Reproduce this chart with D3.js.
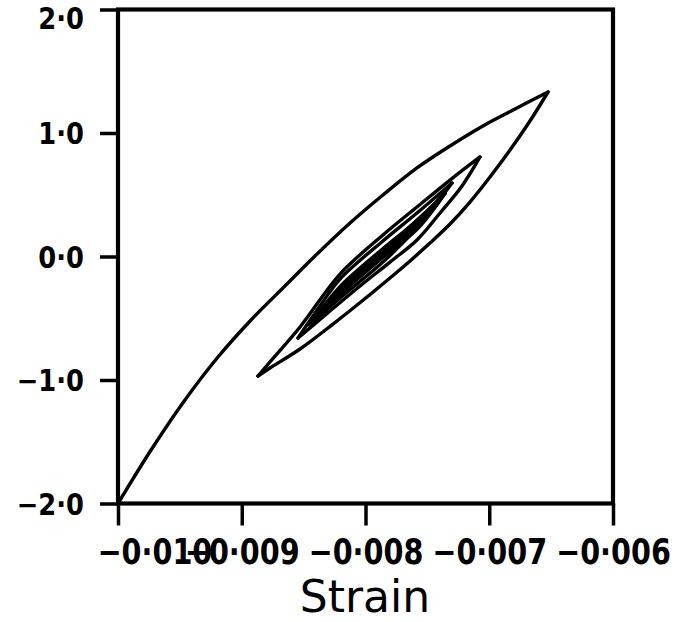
<!DOCTYPE html>
<html>
<head>
<meta charset="utf-8">
<script src="https://cdn.jsdelivr.net/npm/d3@7"></script>
<style>
  html, body { margin: 0; padding: 0; background: #ffffff; }
  svg { display: block; }
</style>
</head>
<body>
<svg id="chart" width="681" height="622"></svg>
<script>
// ---- data (strain, stress) ----
const xTicks = [-0.010, -0.009, -0.008, -0.007, -0.006];
const xTickLabels = ["\u22120\u00b7010", "\u22120\u00b7009", "\u22120\u00b7008", "\u22120\u00b7007", "\u22120\u00b7006"];
const yTicks = [2, 1, 0, -1, -2];
const yTickLabels = ["2\u00b70", "1\u00b70", "0\u00b70", "\u22121\u00b70", "\u22122\u00b70"];
const xTitle = "Strain";

const outerUp = [
  [-0.010000, -2.000], [-0.009733, -1.567], [-0.009459, -1.162], [-0.009192, -0.814],
  [-0.008925, -0.514], [-0.008651, -0.239], [-0.008408, 0.004], [-0.008125, 0.271],
  [-0.007859, 0.498], [-0.007584, 0.717], [-0.007317, 0.895], [-0.007051, 1.057],
  [-0.006776, 1.202], [-0.006525, 1.332]
];
const outerDown = [
  [-0.006525, 1.332], [-0.006671, 1.097], [-0.006832, 0.862], [-0.006994, 0.644],
  [-0.007156, 0.441], [-0.007317, 0.263], [-0.007479, 0.109], [-0.007640, -0.036],
  [-0.007802, -0.174], [-0.007988, -0.328], [-0.008263, -0.547], [-0.008529, -0.749],
  [-0.008772, -0.903], [-0.008869, -0.968]
];
const loop2Up = [
  [-0.008869, -0.968], [-0.008772, -0.854], [-0.008529, -0.571], [-0.008206, -0.142],
  [-0.007859, 0.174], [-0.007584, 0.401], [-0.007317, 0.619], [-0.007075, 0.806]
];
const loop2Down = [
  [-0.007075, 0.806], [-0.007220, 0.571], [-0.007398, 0.352], [-0.007584, 0.134],
  [-0.007802, -0.045], [-0.008044, -0.239], [-0.008287, -0.441], [-0.008545, -0.660]
];
const loop3Up = [
  [-0.008545, -0.660], [-0.008368, -0.401], [-0.008206, -0.182], [-0.007859, 0.126],
  [-0.007584, 0.352], [-0.007301, 0.595]
];
const loop3Down = [
  [-0.007301, 0.595], [-0.007479, 0.360], [-0.007584, 0.231], [-0.007859, -0.045],
  [-0.008206, -0.336], [-0.008448, -0.555]
];
const loop4Up = [
  [-0.008448, -0.555], [-0.008206, -0.247], [-0.007859, 0.061], [-0.007584, 0.287],
  [-0.007358, 0.514]
];
const loop4Down = [
  [-0.007358, 0.514], [-0.007584, 0.223], [-0.007859, -0.004], [-0.008206, -0.304],
  [-0.008400, -0.498]
];
const loop5Up = [
  [-0.008400, -0.498], [-0.008206, -0.263], [-0.007859, 0.045], [-0.007584, 0.271],
  [-0.007398, 0.466]
];
const loop5Down = [
  [-0.007398, 0.466], [-0.007584, 0.239], [-0.007859, 0.012], [-0.008206, -0.287],
  [-0.008352, -0.449]
];
const loop6Up = [
  [-0.008352, -0.449], [-0.007859, 0.036], [-0.007463, 0.401]
];
const loop6Down = [
  [-0.007463, 0.401], [-0.007859, 0.020], [-0.008287, -0.368]
];
const loop7Up = [
  [-0.008287, -0.368], [-0.007859, 0.028], [-0.007519, 0.336]
];

const outerBranches = [outerUp, outerDown, loop2Up, loop2Down, loop3Up, loop3Down];
const coreBranches = [loop4Up, loop4Down, loop5Up, loop5Down, loop6Up, loop6Down, loop7Up];

// ---- layout ----
const svg = d3.select("#chart");
const mLeft = 118, mRight = 613, mTop = 9.5, mBottom = 503.5;
const yCond = 0.86, xCond = 0.82;

const x = d3.scaleLinear().domain([-0.010, -0.006]).range([mLeft, mRight]);
const y = d3.scaleLinear().domain([-2, 2]).range([mBottom, mTop]);

const line = d3.line()
  .x(d => x(d[0]))
  .y(d => y(d[1]))
  .curve(d3.curveCatmullRom.alpha(0.5));

const g = svg.append("g");

// dense core of the tightest loops (loop 4 enclosed area)
g.append("path")
  .attr("d", line(loop4Up) + line(loop4Down).replace(/^M/, "L") + "Z")
  .attr("fill", "#000")
  .attr("stroke", "none");

g.selectAll("path.outer")
  .data(outerBranches)
  .join("path")
  .attr("class", "outer")
  .attr("d", line)
  .attr("fill", "none")
  .attr("stroke", "#000")
  .attr("stroke-width", 3.4)
  .attr("stroke-linecap", "round")
  .attr("stroke-linejoin", "round");

g.selectAll("path.core")
  .data(coreBranches)
  .join("path")
  .attr("class", "core")
  .attr("d", line)
  .attr("fill", "none")
  .attr("stroke", "#000")
  .attr("stroke-width", 4)
  .attr("stroke-linecap", "round")
  .attr("stroke-linejoin", "round");

// frame
svg.append("rect")
  .attr("x", mLeft).attr("y", mTop)
  .attr("width", mRight - mLeft).attr("height", mBottom - mTop)
  .attr("fill", "none")
  .attr("stroke", "#000")
  .attr("stroke-width", 4.2);

// y axis
const yAxis = d3.axisLeft(y)
  .tickValues(yTicks)
  .tickSize(18)
  .tickSizeOuter(0)
  .tickPadding(16)
  .tickFormat((d, i) => yTickLabels[i]);
const yg = svg.append("g").attr("transform", `translate(${mLeft},0)`).call(yAxis);
yg.select(".domain").remove();
yg.selectAll(".tick line").attr("stroke", "#000").attr("stroke-width", 3.5);
yg.selectAll(".tick text")
  .attr("fill", "#000")
  .attr("x", -34 / yCond)
  .attr("dy", (d, i) => i === 0 ? "0.62em" : "0.36em")
  .attr("transform", `scale(${yCond},1)`)
  .style("font-family", "'DejaVu Sans', sans-serif")
  .style("font-weight", "bold")
  .style("font-size", "30px");

// x axis
const xAxis = d3.axisBottom(x)
  .tickValues(xTicks)
  .tickSize(22)
  .tickSizeOuter(0)
  .tickPadding(0)
  .tickFormat((d, i) => xTickLabels[i]);
const xg = svg.append("g").attr("transform", `translate(0,${mBottom})`).call(xAxis);
xg.select(".domain").remove();
xg.selectAll(".tick line").attr("stroke", "#000").attr("stroke-width", 3.5);
xg.selectAll(".tick text")
  .attr("fill", "#000")
  .attr("y", 60.5)
  .attr("dy", 0)
  .attr("x", 0)
  .attr("transform", `scale(${xCond},1)`)
  .style("font-family", "'DejaVu Sans', sans-serif")
  .style("font-weight", "bold")
  .style("font-size", "35px");
// first label sits shifted to the right, as in the original figure
xg.selectAll(".tick text")
  .filter((d, i) => i === 0)
  .attr("text-anchor", "start")
  .attr("x", (97 - mLeft) / xCond);

// x title
svg.append("text")
  .attr("x", 365)
  .attr("y", 612)
  .attr("text-anchor", "middle")
  .style("font-family", "'DejaVu Sans', sans-serif")
  .style("font-size", "44px")
  .attr("fill", "#000")
  .text(xTitle);
</script>
</body>
</html>
